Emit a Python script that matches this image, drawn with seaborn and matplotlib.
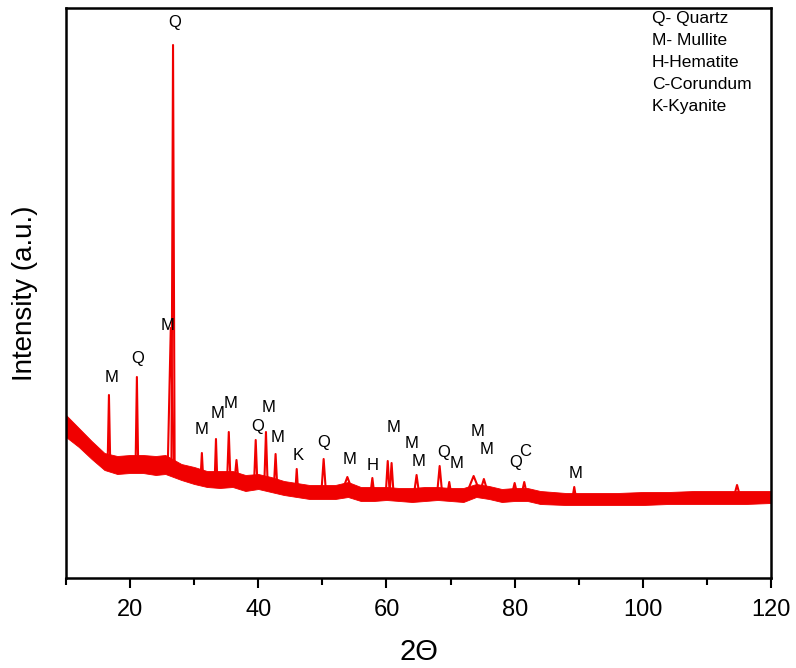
import matplotlib
matplotlib.use("Agg")
import matplotlib.pyplot as plt
import seaborn as sns
import pandas as pd

# ---------------- data ----------------
# noisy background band: 2theta, lower and upper edge of the band (a.u.)
bg_x = [10, 12, 14, 16, 18, 20, 22, 24, 25.5, 28, 30, 32, 34, 36, 38, 40, 42, 44, 46, 48,
        50, 52, 54, 56, 58, 60, 62, 64, 66, 68, 70, 72, 74, 76, 78, 80, 82, 84, 88, 92,
        96, 100, 104, 108, 112, 116, 120]
bg_lo = [141, 131, 119, 108, 104, 105, 105, 103, 104, 98, 94, 91, 90, 91, 87, 89, 86, 83, 81, 79,
         79, 79, 81, 77, 77, 78, 77, 76, 77, 78, 77, 76, 81, 79, 76, 77, 77, 74, 73, 73,
         73, 73, 74, 74, 74, 74, 75]
bg_hi = [163, 150, 137, 125, 122, 123, 123, 122, 123, 114, 111, 107, 107, 107, 103, 104, 101, 97, 95, 93,
         93, 93, 96, 91, 91, 91, 90, 90, 91, 91, 90, 90, 94, 92, 89, 90, 90, 87, 85, 85,
         85, 86, 86, 87, 87, 87, 87]

# diffraction peaks: position (2theta), top, foot level, half width
peak_pos = [16.7, 21.06, 26.35, 26.7, 31.2, 33.4, 35.4, 36.6, 39.6, 41.2, 42.7, 46.0, 50.2,
            53.9, 57.8, 60.2, 60.8, 64.7, 68.3, 69.8, 73.6, 75.2, 80.0, 81.5, 89.3, 114.7]
peak_top = [183, 201, 250, 533, 125, 139, 146, 118, 138, 146, 124, 109, 119,
            101, 100, 117, 115, 103, 112, 96, 102, 99, 95, 96, 91, 93]
peak_base = [115, 114, 118, 112, 100, 98, 99, 98, 96, 96, 93, 88, 86,
             87, 84, 85, 85, 84, 84, 84, 86, 86, 84, 84, 79, 81]
peak_hw = [0.2, 0.2, 0.45, 0.25, 0.2, 0.2, 0.25, 0.3, 0.25, 0.25, 0.25, 0.2, 0.35,
           0.8, 0.3, 0.3, 0.3, 0.4, 0.4, 0.3, 1.0, 0.6, 0.4, 0.4, 0.3, 0.5]

# phase labels
lab_text = ["Q", "M", "Q", "M", "M", "M", "M", "Q", "M", "M", "K", "Q", "M", "H",
            "M", "M", "M", "Q", "M", "M", "M", "Q", "C", "M"]
lab_x = [26.98, 17.17, 21.22, 25.89, 31.19, 33.68, 35.71, 39.92, 41.63, 43.03, 46.30, 50.20,
         54.25, 57.83, 61.11, 63.91, 65.00, 68.90, 70.92, 74.19, 75.60, 80.12, 81.67, 89.46]
lab_y = [556, 201, 220, 253, 149, 165, 175, 151, 171, 141, 123, 135,
         119, 112, 151, 135, 117, 126, 115, 146, 129, 115, 127, 105]

legend_lines = ["Q- Quartz", "M- Mullite", "H-Hematite", "C-Corundum", "K-Kyanite"]

xticks = [20, 40, 60, 80, 100, 120]
xminor = [10, 30, 50, 70, 90, 110]

# ---------------- plotting ----------------
sns.set_theme(style="ticks")
plt.rcParams["font.family"] = ["Liberation Sans", "DejaVu Sans"]

RED = "#f00000"

rows = []
for i, (p, t, b, w) in enumerate(zip(peak_pos, peak_top, peak_base, peak_hw)):
    rows += [(i, p - w, b), (i, p, t), (i, p + w, b)]
df = pd.DataFrame(rows, columns=["peak", "x", "y"])

fig = plt.figure(figsize=(7.96, 6.68), dpi=100)
ax = fig.add_axes([66 / 796, 1 - 578 / 668, (771 - 66) / 796, 570 / 668])

ax.fill_between(bg_x, bg_lo, bg_hi, color=RED, lw=0.6)
sns.lineplot(data=df, x="x", y="y", units="peak", estimator=None, sort=False,
             color=RED, lw=1.5, ax=ax, legend=False)

for t, x, y in zip(lab_text, lab_x, lab_y):
    ax.text(x, y, t, ha="center", va="center", fontsize=12, color="black")

for k, line in enumerate(legend_lines):
    ax.text(0.831, 0.982 - k * 0.0386, line, transform=ax.transAxes,
            ha="left", va="center", fontsize=12.5, color="black")

ax.set_xlim(10, 120)
ax.set_ylim(0, 570)
ax.set_xticks(xticks)
ax.set_xticks(xminor, minor=True)
ax.set_xticklabels([str(v) for v in xticks])
ax.set_yticks([])
ax.tick_params(axis="x", which="major", direction="out", length=7, width=1.5,
               labelsize=17, pad=8, color="black", labelcolor="black")
ax.tick_params(axis="x", which="minor", direction="out", length=5, width=1.5, color="black")
for s in ax.spines.values():
    s.set_linewidth(1.8)
    s.set_color("black")

ax.set_xlabel("2Θ", fontsize=21, color="black")
ax.xaxis.set_label_coords(0.5, -0.105)
ax.set_ylabel("Intensity (a.u.)", fontsize=20, color="black")
ax.yaxis.set_label_coords(-0.040, 0.50)

fig.savefig("out.png", dpi=100)
